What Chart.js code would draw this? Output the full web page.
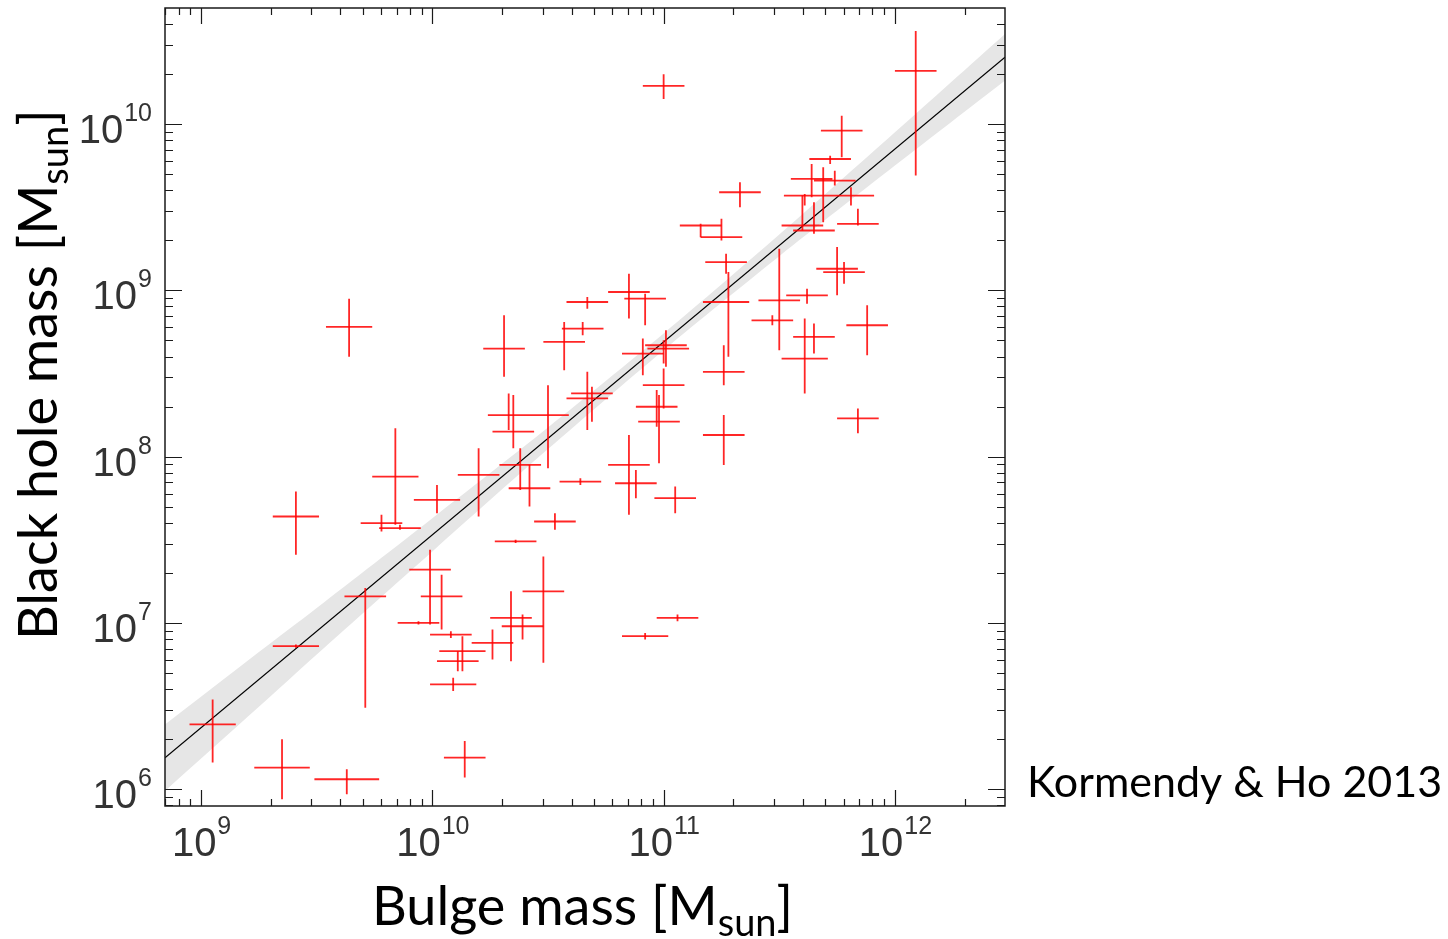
<!DOCTYPE html>
<html>
<head>
<meta charset="utf-8">
<script src="https://cdn.jsdelivr.net/npm/chart.js@4.4.0/dist/chart.umd.min.js"></script>
<style>
  html, body { margin: 0; padding: 0; background: #fff; }
  canvas { display: block; }
</style>
</head>
<body>
<canvas id="chart" width="1448" height="939"></canvas>
<script>
// log10 of bulge mass (centre, lower, upper)
const bulgeLog = [9.05, 9.35, 9.41, 9.41, 9.64, 9.63, 9.71, 9.78, 9.84, 9.86,
  10.02, 9.99, 10.04, 9.94, 10.08, 10.13, 10.11, 10.09, 10.14, 10.20,
  10.26, 10.31, 10.33, 10.35, 10.34, 10.39, 10.36, 10.38, 10.42, 10.48,
  10.50, 10.53, 10.57, 10.65, 10.67, 10.67, 10.69, 10.64, 10.85, 10.92,
  10.91, 11.01, 11.00, 11.00, 10.97, 10.98, 10.85, 10.88, 11.05, 11.06,
  10.92, 11.00, 11.16, 11.25, 11.27, 11.28, 11.33, 11.26, 11.26, 11.47,
  11.50, 11.62, 11.61, 11.65, 11.88, 11.84, 11.75, 11.78, 11.84, 11.64,
  11.74, 11.69, 11.61, 11.81, 11.60, 11.65, 11.72, 11.77, 12.09];
const bulgeLogLo = [8.95, 9.23, 9.31, 9.31, 9.54, 9.49, 9.62, 9.69, 9.74, 9.77,
  9.92, 9.90, 9.95, 9.85, 9.99, 10.03, 10.02, 9.99, 10.05, 10.11,
  10.17, 10.22, 10.24, 10.26, 10.25, 10.30, 10.27, 10.29, 10.33, 10.39,
  10.41, 10.44, 10.48, 10.56, 10.58, 10.58, 10.60, 10.55, 10.76, 10.83,
  10.82, 10.92, 10.93, 10.91, 10.88, 10.89, 10.76, 10.79, 10.96, 10.97,
  10.82, 10.91, 11.07, 11.16, 11.18, 11.17, 11.24, 11.17, 11.17, 11.38,
  11.41, 11.53, 11.51, 11.56, 11.79, 11.75, 11.66, 11.69, 11.75, 11.55,
  11.65, 11.60, 11.52, 11.72, 11.51, 11.56, 11.63, 11.68, 12.00];
const bulgeLogHi = [9.15, 9.47, 9.51, 9.51, 9.74, 9.77, 9.80, 9.87, 9.94, 9.95,
  10.12, 10.08, 10.13, 10.03, 10.17, 10.23, 10.20, 10.19, 10.23, 10.29,
  10.35, 10.40, 10.42, 10.44, 10.43, 10.48, 10.45, 10.47, 10.51, 10.57,
  10.59, 10.62, 10.66, 10.74, 10.76, 10.76, 10.78, 10.73, 10.94, 11.01,
  11.00, 11.10, 11.11, 11.09, 11.06, 11.07, 10.94, 10.97, 11.14, 11.15,
  11.02, 11.09, 11.25, 11.34, 11.36, 11.37, 11.42, 11.35, 11.35, 11.56,
  11.59, 11.71, 11.71, 11.74, 11.97, 11.93, 11.84, 11.87, 11.93, 11.73,
  11.83, 11.87, 11.70, 11.91, 11.69, 11.74, 11.81, 11.86, 12.18];

// log10 of black hole mass (centre, lower, upper)
const bhLog = [6.39, 6.13, 7.64, 6.86, 8.78, 6.06, 7.16, 7.60, 7.88, 7.57,
  7.74, 7.32, 7.16, 7.00, 6.93, 6.83, 6.77, 6.63, 6.19, 7.89,
  6.88, 8.65, 8.25, 8.15, 7.03, 6.98, 7.49, 7.95, 7.81, 7.19,
  8.25, 7.61, 8.69, 8.77, 8.93, 8.35, 8.38, 7.85, 8.99, 8.95,
  8.62, 8.67, 8.65, 8.43, 8.30, 8.21, 7.95, 7.84, 7.75, 7.03,
  6.92, 10.23, 9.39, 9.32, 9.17, 8.93, 9.59, 8.51, 8.13, 8.82,
  8.94, 8.97, 8.59, 8.72, 8.79, 8.23, 9.13, 9.11, 9.40, 9.67,
  9.66, 9.57, 9.57, 9.57, 9.39, 9.36, 9.79, 9.96, 10.32];
const bhLogLo = [6.16, 5.94, 7.41, 6.85, 8.60, 5.97, 6.49, 7.55, 7.59, 7.56,
  7.66, 6.99, 6.96, 6.99, 6.91, 6.71, 6.71, 6.59, 6.07, 7.64,
  6.78, 8.48, 8.16, 8.05, 6.77, 6.90, 7.48, 7.80, 7.70, 6.76,
  7.93, 7.56, 8.52, 8.73, 8.89, 8.16, 8.21, 7.83, 8.83, 8.79,
  8.49, 8.54, 8.56, 8.29, 8.18, 7.96, 7.65, 7.75, 7.66, 7.01,
  6.90, 10.15, 9.32, 9.30, 9.10, 8.60, 9.50, 8.43, 7.95, 8.79,
  8.64, 8.92, 8.38, 8.62, 8.61, 8.14, 8.97, 9.04, 9.39, 9.56,
  9.63, 9.41, 9.51, 9.51, 9.36, 9.34, 9.76, 9.80, 9.69];
const bhLogHi = [6.54, 6.30, 7.79, 6.87, 8.95, 6.12, 7.21, 7.65, 8.17, 7.59,
  7.83, 7.44, 7.29, 7.01, 6.95, 6.92, 6.83, 6.67, 6.29, 8.05,
  6.96, 8.85, 8.38, 8.37, 7.19, 7.05, 7.50, 8.05, 7.95, 7.40,
  8.43, 7.66, 8.81, 8.81, 8.96, 8.51, 8.42, 7.87, 9.10, 8.98,
  8.71, 8.76, 8.70, 8.53, 8.40, 8.37, 8.13, 7.92, 7.82, 7.05,
  6.94, 10.30, 9.40, 9.43, 9.22, 9.11, 9.65, 8.67, 8.25, 8.85,
  9.25, 9.01, 8.83, 8.80, 8.91, 8.29, 9.26, 9.17, 9.49, 9.76,
  9.72, 9.74, 9.58, 9.62, 9.57, 9.53, 9.81, 10.05, 10.56];

// fit: M_BH = 0.49e9 (M_bulge / 1e11)^1.16
const fitNorm = 0.49e9;
const fitSlope = 1.16;
// shaded band: half width in dex at a few bulge masses
const bandLog = [8.84, 9.25, 9.5, 10.0, 10.5, 11.0, 11.5, 12.0, 12.48];
const bandHalf = [0.20, 0.165, 0.14, 0.10, 0.065, 0.05, 0.065, 0.10, 0.14];

// axis ranges and tick labels
const xRangeLog = [8.844, 12.476];
const yRangeLog = [5.899, 10.698];
const xTickExp = [9, 10, 11, 12];
const yTickExp = [6, 7, 8, 9, 10];

const fitLog = (lx) => Math.log10(fitNorm) + fitSlope * (lx - 11);

// error bar segments, broken with gaps
const hBars = [];
const vBars = [];
bulgeLog.forEach((lx, i) => {
  const cy = 10 ** bhLog[i];
  hBars.push({ x: 10 ** bulgeLogLo[i], y: cy }, { x: 10 ** bulgeLogHi[i], y: cy }, { x: 10 ** bulgeLogHi[i], y: null });
  const cx = 10 ** lx;
  vBars.push({ x: cx, y: 10 ** bhLogLo[i] }, { x: cx, y: 10 ** bhLogHi[i] }, { x: cx, y: null });
});

const fitLine = xRangeLog.map((lx) => ({ x: 10 ** lx, y: 10 ** fitLog(lx) }));
const bandUpper = bandLog.map((lx, i) => ({ x: 10 ** lx, y: 10 ** (fitLog(lx) + bandHalf[i]) }));
const bandLower = bandLog.map((lx, i) => ({ x: 10 ** lx, y: 10 ** (fitLog(lx) - bandHalf[i]) }));

const RED = "rgba(255,0,0,0.85)";

// frame, inward ticks and all the text
const framePlugin = {
  id: "frame",
  afterDraw(chart) {
    const { ctx, chartArea: a, scales } = chart;
    const xs = scales.x, ys = scales.y;
    ctx.save();
    ctx.strokeStyle = "#1a1a1a";
    ctx.lineWidth = 1.5;
    ctx.strokeRect(a.left, a.top, a.right - a.left, a.bottom - a.top);

    ctx.lineWidth = 1.2;
    ctx.beginPath();
    for (let e = 8; e <= 12; e++) {
      for (let k = 1; k <= 9; k++) {
        const v = k * 10 ** e;
        if (v < 10 ** xRangeLog[0] || v > 10 ** xRangeLog[1]) continue;
        const px = Math.round(xs.getPixelForValue(v)) + 0.5;
        const len = k === 1 ? 16 : 7;
        ctx.moveTo(px, a.bottom); ctx.lineTo(px, a.bottom - len);
        ctx.moveTo(px, a.top); ctx.lineTo(px, a.top + len);
      }
    }
    for (let e = 5; e <= 10; e++) {
      for (let k = 1; k <= 9; k++) {
        const v = k * 10 ** e;
        if (v < 10 ** yRangeLog[0] || v > 10 ** yRangeLog[1]) continue;
        const py = Math.round(ys.getPixelForValue(v)) + 0.5;
        const len = k === 1 ? 17 : 8;
        ctx.moveTo(a.left, py); ctx.lineTo(a.left + len, py);
        ctx.moveTo(a.right, py); ctx.lineTo(a.right - len, py);
      }
    }
    ctx.stroke();

    // tick labels
    ctx.fillStyle = "#333";
    const big = "40px 'Liberation Sans', Arial, sans-serif";
    const small = "25px 'Liberation Sans', Arial, sans-serif";
    ctx.textBaseline = "alphabetic";
    ctx.textAlign = "left";
    xTickExp.forEach((e) => {
      const px = xs.getPixelForValue(10 ** e);
      ctx.font = big;
      const w1 = ctx.measureText("10").width;
      ctx.font = small;
      const w2 = ctx.measureText(String(e)).width;
      const left = px - (w1 + w2) / 2;
      ctx.font = big;
      ctx.fillText("10", left, 856);
      ctx.font = small;
      ctx.fillText(String(e), left + w1 + 1, 834);
    });
    yTickExp.forEach((e) => {
      const py = ys.getPixelForValue(10 ** e);
      ctx.font = big;
      const w1 = ctx.measureText("10").width;
      ctx.font = small;
      const w2 = ctx.measureText(String(e)).width;
      const right = 152;
      ctx.font = big;
      ctx.fillText("10", right - w2 - w1 - 1, py + 19);
      ctx.font = small;
      ctx.fillText(String(e), right - w2, py - 3);
    });

    // axis titles
    ctx.fillStyle = "#000";
    const tFont = "54px Lato, 'Open Sans', sans-serif";
    const sFont = "38px Lato, 'Open Sans', sans-serif";
    const drawTitle = (main, x0, y0) => {
      ctx.font = tFont;
      ctx.fillText(main, x0, y0);
      let x = x0 + ctx.measureText(main).width;
      ctx.font = sFont;
      ctx.fillText("sun", x, y0 + 11);
      x += ctx.measureText("sun").width;
      ctx.font = tFont;
      ctx.fillText("]", x, y0);
    };
    drawTitle("Bulge mass [M", 372, 925);
    ctx.save();
    ctx.translate(57, 640);
    ctx.rotate(-Math.PI / 2);
    drawTitle("Black hole mass [M", 0, 0);
    ctx.restore();

    ctx.font = "43px Lato, 'Open Sans', sans-serif";
    ctx.fillText("Kormendy & Ho 2013", 1027, 797);
    ctx.restore();
  },
};

new Chart(document.getElementById("chart"), {
  type: "scatter",
  data: {
    datasets: [
      { data: hBars, showLine: true, borderColor: RED, borderWidth: 1.8, pointRadius: 0, spanGaps: false, order: 0 },
      { data: vBars, showLine: true, borderColor: RED, borderWidth: 1.8, pointRadius: 0, spanGaps: false, order: 0 },
      { data: fitLine, showLine: true, borderColor: "#000", borderWidth: 1.2, pointRadius: 0, order: 1 },
      { data: bandUpper, showLine: true, borderWidth: 0, borderColor: "rgba(0,0,0,0)", pointRadius: 0, tension: 0.3, order: 2 },
      { data: bandLower, showLine: true, borderWidth: 0, borderColor: "rgba(0,0,0,0)", pointRadius: 0, tension: 0.3, fill: "-1", backgroundColor: "#e6e6e6", order: 2 },
    ],
  },
  options: {
    responsive: false,
    animation: false,
    layout: { padding: { top: 8, right: 443, left: 0, bottom: 0 } },
    plugins: { legend: { display: false }, tooltip: { enabled: false } },
    scales: {
      x: {
        type: "logarithmic",
        min: 10 ** xRangeLog[0],
        max: 10 ** xRangeLog[1],
        ticks: { display: false },
        grid: { display: false },
        border: { display: false },
        afterFit: (s) => { s.height = 133; },
      },
      y: {
        type: "logarithmic",
        min: 10 ** yRangeLog[0],
        max: 10 ** yRangeLog[1],
        ticks: { display: false },
        grid: { display: false },
        border: { display: false },
        afterFit: (s) => { s.width = 165; },
      },
    },
  },
  plugins: [framePlugin],
});
</script>
</body>
</html>
